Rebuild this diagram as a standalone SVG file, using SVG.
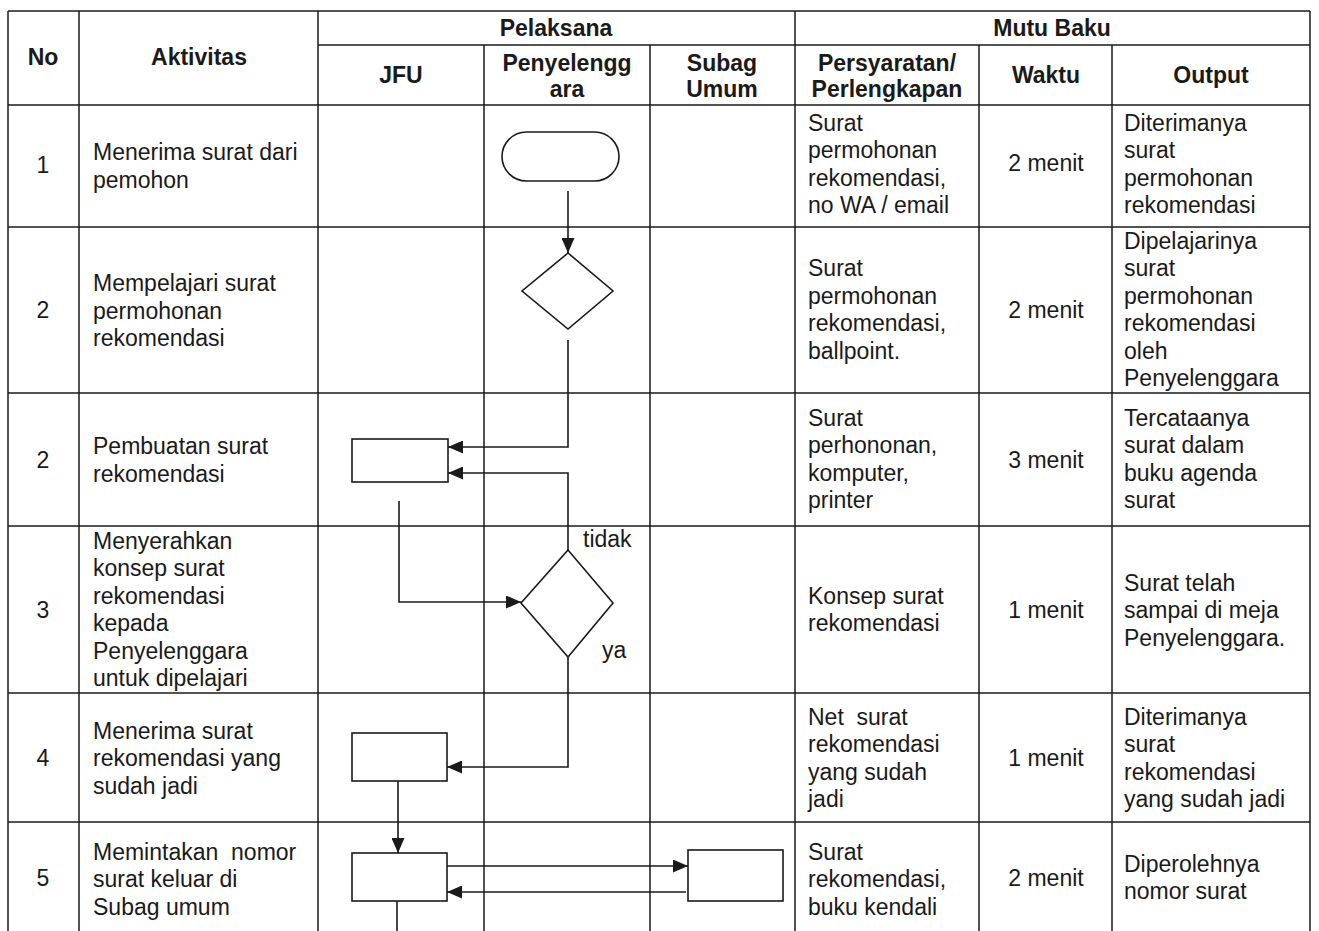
<svg xmlns="http://www.w3.org/2000/svg" width="1319" height="931" viewBox="0 0 1319 931">
<style>
.g{stroke:#1a1a1a;stroke-width:1.5;fill:none}
.n{stroke:#1a1a1a;stroke-width:1.6;fill:#fff}
.k{stroke:#1a1a1a;stroke-width:1.6;fill:none}
text{font-family:"Liberation Sans",Arial,sans-serif;font-size:23px;fill:#1a1a1a}
.h{font-weight:bold}
.c{text-anchor:middle}
</style>
<defs>
<marker id="ah" viewBox="0 0 15 13" refX="15" refY="6.5" markerWidth="15" markerHeight="13" orient="auto" markerUnits="userSpaceOnUse">
<path d="M0,0 L15,6.5 L0,13 z" fill="#1a1a1a"/>
</marker>
</defs>
<rect width="1319" height="931" fill="#fff"/>
<g id="grid" class="g">
<line x1="8" y1="11" x2="1310" y2="11"/>
<line x1="318" y1="45" x2="1310" y2="45"/>
<line x1="8" y1="105" x2="1310" y2="105"/>
<line x1="8" y1="227" x2="1310" y2="227"/>
<line x1="8" y1="393" x2="1310" y2="393"/>
<line x1="8" y1="526" x2="1310" y2="526"/>
<line x1="8" y1="693" x2="1310" y2="693"/>
<line x1="8" y1="822" x2="1310" y2="822"/>
<line x1="8" y1="11" x2="8" y2="931"/>
<line x1="79" y1="11" x2="79" y2="931"/>
<line x1="318" y1="11" x2="318" y2="931"/>
<line x1="484" y1="45" x2="484" y2="931"/>
<line x1="650" y1="45" x2="650" y2="931"/>
<line x1="795" y1="11" x2="795" y2="931"/>
<line x1="979" y1="45" x2="979" y2="931"/>
<line x1="1112" y1="45" x2="1112" y2="931"/>
<line x1="1310" y1="11" x2="1310" y2="931"/>
</g>
<g id="header">
<text class="h c" x="43" y="65">No</text>
<text class="h c" x="199" y="65">Aktivitas</text>
<text class="h c" x="556" y="36">Pelaksana</text>
<text class="h c" x="1052" y="36">Mutu Baku</text>
<text class="h c" x="401" y="83">JFU</text>
<text class="h c" x="567" y="71">Penyelengg</text>
<text class="h c" x="567" y="97">ara</text>
<text class="h c" x="722" y="71">Subag</text>
<text class="h c" x="722" y="97">Umum</text>
<text class="h c" x="887" y="71">Persyaratan/</text>
<text class="h c" x="887" y="97">Perlengkapan</text>
<text class="h c" x="1046" y="83">Waktu</text>
<text class="h c" x="1211" y="83">Output</text>
</g>
<g id="row1">
<text class="c" x="43" y="173">1</text>
<text x="93" y="160">Menerima surat dari</text>
<text x="93" y="188">pemohon</text>
<text x="808" y="131">Surat</text>
<text x="808" y="158">permohonan</text>
<text x="808" y="186">rekomendasi,</text>
<text x="808" y="213">no WA / email</text>
<text class="c" x="1046" y="171">2 menit</text>
<text x="1124" y="131">Diterimanya</text>
<text x="1124" y="158">surat</text>
<text x="1124" y="186">permohonan</text>
<text x="1124" y="213">rekomendasi</text>
</g>
<g id="row2">
<text class="c" x="43" y="318">2</text>
<text x="93" y="291">Mempelajari surat</text>
<text x="93" y="319">permohonan</text>
<text x="93" y="346">rekomendasi</text>
<text x="808" y="276">Surat</text>
<text x="808" y="304">permohonan</text>
<text x="808" y="331">rekomendasi,</text>
<text x="808" y="359">ballpoint.</text>
<text class="c" x="1046" y="318">2 menit</text>
<text x="1124" y="249">Dipelajarinya</text>
<text x="1124" y="276">surat</text>
<text x="1124" y="304">permohonan</text>
<text x="1124" y="331">rekomendasi</text>
<text x="1124" y="359">oleh</text>
<text x="1124" y="386">Penyelenggara</text>
</g>
<g id="row3">
<text class="c" x="43" y="468">2</text>
<text x="93" y="454">Pembuatan surat</text>
<text x="93" y="482">rekomendasi</text>
<text x="808" y="426">Surat</text>
<text x="808" y="453">perhononan,</text>
<text x="808" y="481">komputer,</text>
<text x="808" y="508">printer</text>
<text class="c" x="1046" y="468">3 menit</text>
<text x="1124" y="426">Tercataanya</text>
<text x="1124" y="453">surat dalam</text>
<text x="1124" y="481">buku agenda</text>
<text x="1124" y="508">surat</text>
</g>
<g id="row4">
<text class="c" x="43" y="618">3</text>
<text x="93" y="549">Menyerahkan</text>
<text x="93" y="576">konsep surat</text>
<text x="93" y="604">rekomendasi</text>
<text x="93" y="631">kepada</text>
<text x="93" y="659">Penyelenggara</text>
<text x="93" y="686">untuk dipelajari</text>
<text x="808" y="604">Konsep surat</text>
<text x="808" y="631">rekomendasi</text>
<text class="c" x="1046" y="618">1 menit</text>
<text x="1124" y="591">Surat telah</text>
<text x="1124" y="618">sampai di meja</text>
<text x="1124" y="646">Penyelenggara.</text>
</g>
<g id="row5">
<text class="c" x="43" y="766">4</text>
<text x="93" y="739">Menerima surat</text>
<text x="93" y="766">rekomendasi yang</text>
<text x="93" y="794">sudah jadi</text>
<text x="808" y="725" xml:space="preserve">Net  surat</text>
<text x="808" y="752">rekomendasi</text>
<text x="808" y="780">yang sudah</text>
<text x="808" y="807">jadi</text>
<text class="c" x="1046" y="766">1 menit</text>
<text x="1124" y="725">Diterimanya</text>
<text x="1124" y="752">surat</text>
<text x="1124" y="780">rekomendasi</text>
<text x="1124" y="807">yang sudah jadi</text>
</g>
<g id="row6">
<text class="c" x="43" y="886">5</text>
<text x="93" y="860" xml:space="preserve">Memintakan  nomor</text>
<text x="93" y="887">surat keluar di</text>
<text x="93" y="915">Subag umum</text>
<text x="808" y="860">Surat</text>
<text x="808" y="887">rekomendasi,</text>
<text x="808" y="915">buku kendali</text>
<text class="c" x="1046" y="886">2 menit</text>
<text x="1124" y="872">Diperolehnya</text>
<text x="1124" y="899">nomor surat</text>
</g>
<g id="node-start"><rect class="n" x="502" y="132" width="117" height="49" rx="24.5"/></g>
<g id="node-decision1"><polygon class="n" points="568,253 613,291 568,329 522,291"/></g>
<g id="node-process3"><rect class="n" x="352" y="439" width="96" height="43"/></g>
<g id="node-decision2"><polygon class="n" points="568,550 613,603 568,657 521,603"/></g>
<g id="node-process4"><rect class="n" x="352" y="733" width="95" height="48"/></g>
<g id="node-process5"><rect class="n" x="352" y="853" width="95" height="48"/></g>
<g id="node-subag"><rect class="n" x="688" y="850" width="95" height="51"/></g>
<g id="connectors" class="k">
<line x1="568" y1="191" x2="568" y2="253" marker-end="url(#ah)"/>
<polyline points="568,340 568,447 448,447" marker-end="url(#ah)"/>
<polyline points="568,550 568,473 448,473" marker-end="url(#ah)"/>
<polyline points="399,501 399,602 521,602" marker-end="url(#ah)"/>
<polyline points="568,657 568,767 447,767" marker-end="url(#ah)"/>
<line x1="398" y1="781" x2="398" y2="853" marker-end="url(#ah)"/>
<line x1="447" y1="866" x2="688" y2="866" marker-end="url(#ah)"/>
<line x1="686" y1="892" x2="447" y2="892" marker-end="url(#ah)"/>
<line x1="397" y1="901" x2="397" y2="931"/>
</g>
<g id="labels">
<text x="583" y="547">tidak</text>
<text x="602" y="658">ya</text>
</g>
</svg>
